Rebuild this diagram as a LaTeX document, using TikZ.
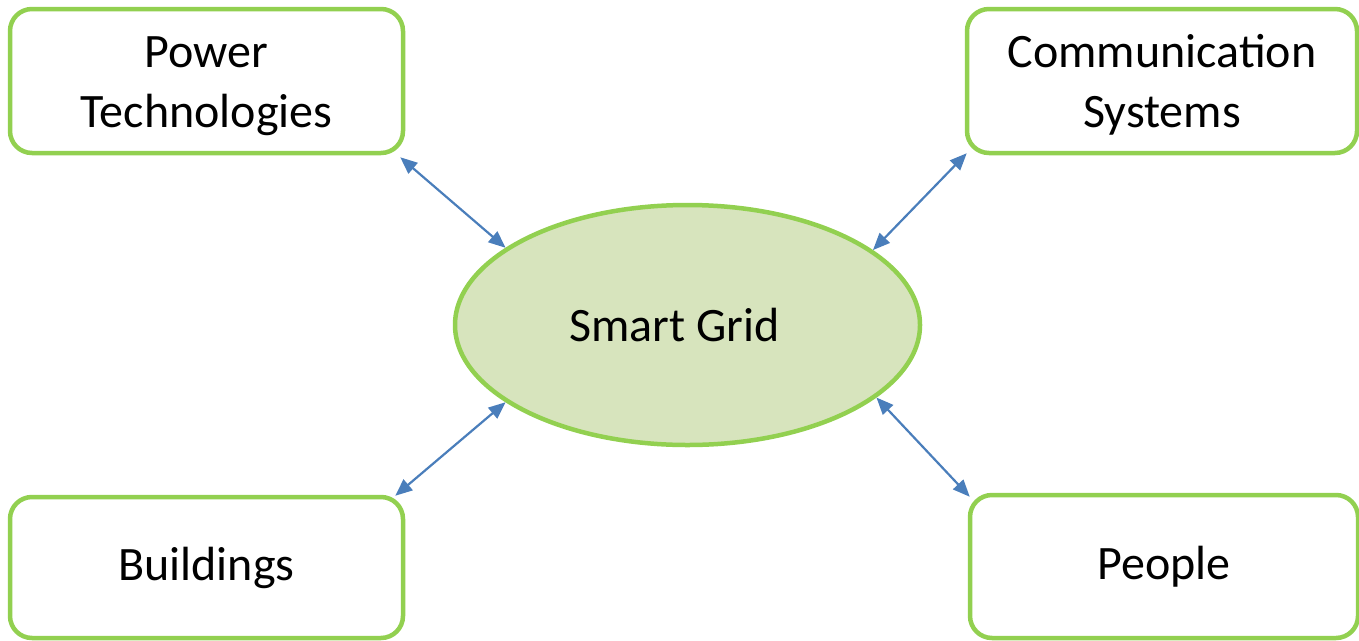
\documentclass[tikz,border=0pt]{standalone}
\usepackage{fontspec}
\setmainfont{Carlito}
\usetikzlibrary{arrows.meta,shapes.geometric}
\definecolor{sgreen}{HTML}{92D050}
\definecolor{sfill}{HTML}{D7E4BD}
\definecolor{sblue}{HTML}{4A7EBB}
\newcommand{\topstrut}{\rule{0pt}{41pt}}
\begin{document}
\begin{tikzpicture}[x=1pt,y=-1pt,
  lbl/.style={font=\fontsize{48}{60}\selectfont},
  box/.style={lbl, draw=sgreen, line width=4.5pt, rounded corners=22pt, fill=white,
    inner sep=0pt, align=center},
  hub/.style={lbl, ellipse, draw=sgreen, line width=4.5pt, fill=sfill, inner sep=0pt},
  link/.style={draw=sblue, line width=2.2pt,
    {Triangle[length=17pt,width=14pt]}-{Triangle[length=17pt,width=14pt]}}]
\useasboundingbox (0,0) rectangle (1359,640);
\node[box, minimum width=393pt, minimum height=144pt] (pt) at (206.5,81) {\topstrut Power\\Technologies};
\node[box, minimum width=390pt, minimum height=144pt] (cs) at (1162,81) {\topstrut Communication\\Systems};
\node[box, minimum width=393pt, minimum height=141pt] (bu) at (206.5,567.5) {Buildings};
\node[box, minimum width=388pt, minimum height=143pt] (pe) at (1164,566.5) {People};
\node[hub, minimum width=465pt, minimum height=240pt] (sg) at (687.5,325) {Smart Grid\kern26pt};
\draw[link] ([xshift=-5pt,yshift=-2pt]pt.south east) -- (sg.157.5);
\draw[link] ([xshift=2pt,yshift=2pt]cs.south west) -- (sg.22);
\draw[link] ([xshift=-10pt,yshift=-1pt]bu.north east) -- (sg.203);
\draw[link] ([xshift=2pt,yshift=-4pt]pe.north west) -- (sg.339);
\end{tikzpicture}
\end{document}
